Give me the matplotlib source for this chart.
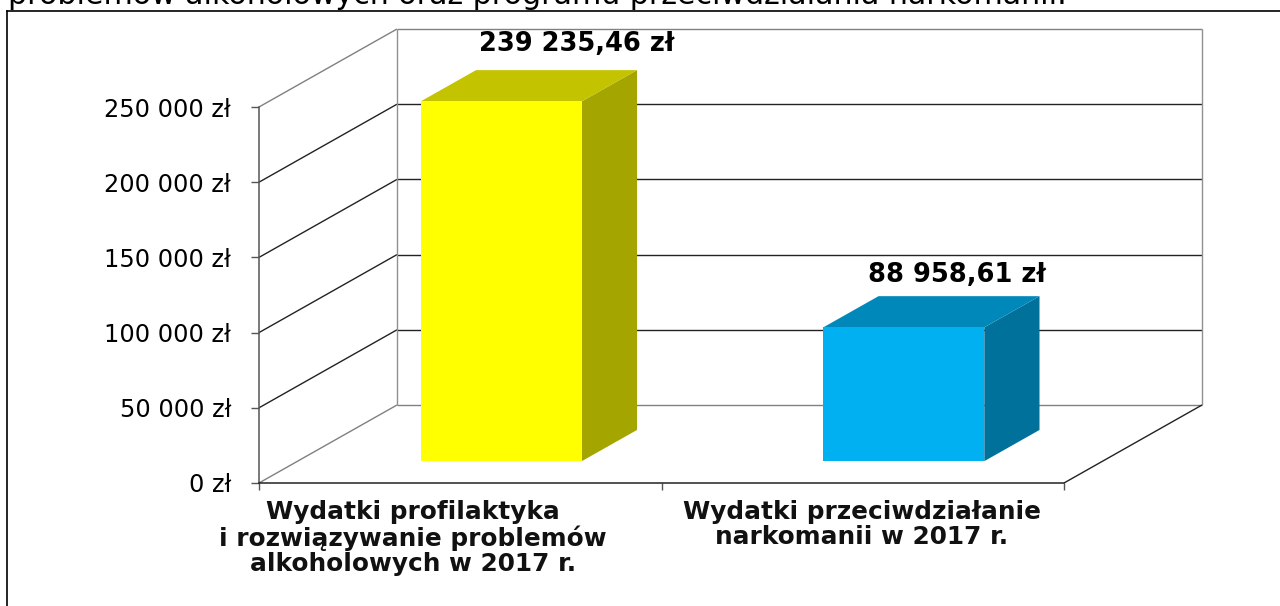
import matplotlib
matplotlib.use("Agg")
import matplotlib.pyplot as plt
from matplotlib.patches import Polygon

plt.rcParams['font.family'] = ['DejaVu Sans']

# data
categories = ["Wydatki profilaktyka\ni rozwiązywanie problemów\nalkoholowych w 2017 r.",
              "Wydatki przeciwdziałanie\nnarkomanii w 2017 r."]
values = [239235.46, 88958.61]
value_labels = ["239 235,46 zł", "88 958,61 zł"]
y_ticks = [0, 50000, 100000, 150000, 200000, 250000]
y_tick_labels = ["0 zł", "50 000 zł", "100 000 zł", "150 000 zł", "200 000 zł", "250 000 zł"]
header = "problemów alkoholowych oraz programu przeciwdziałania narkomanii."

W, H = 1280, 606
fig = plt.figure(figsize=(W / 100, H / 100), dpi=100)

# front plane of the fake 3d box
ax = fig.add_axes([259 / W, (H - 483) / H, 805 / W, 376 / H])
ax.set_xlim(0, 2)
ax.set_ylim(0, 250000)
ax.patch.set_visible(False)

# depth of the box, in data units
dx = 138 / 402.5
dy = 78 / 376 * 250000


def proj(x, y, d):
    return (x + d * dx, y + d * dy)


def line(p, q, color):
    ax.plot([p[0], q[0]], [p[1], q[1]], color=color, lw=1.0, clip_on=False, zorder=1,
            solid_capstyle="butt")


# back wall and side wall
for v in y_ticks:
    if v == 0 or v == y_ticks[-1]:
        c = "#808080"
    else:
        c = "#222222"
    line(proj(0, v, 1), proj(2, v, 1), c)
    line(proj(0, v, 0), proj(0, v, 1), c)
line(proj(0, 0, 1), proj(0, 250000, 1), "#909090")
line(proj(2, 0, 1), proj(2, 250000, 1), "#909090")
line(proj(2, 0, 0), proj(2, 0, 1), "#222222")

# bars
bar_x = [0.506, 1.506]
bar_w = 0.4
d0, d1 = 0.28, 0.68
faces = [("#FFFF00", "#C3C300", "#A5A500"), ("#00B0F0", "#0088BA", "#00719B")]
label_shift = [(20, 26), (-2, 21)]
for x, v, (front, top, side), lab, sh in zip(bar_x, values, faces, value_labels, label_shift):
    l, r = x - bar_w / 2, x + bar_w / 2
    ax.add_patch(Polygon([proj(r, 0, d0), proj(r, 0, d1), proj(r, v, d1), proj(r, v, d0)],
                         fc=side, ec="none", clip_on=False, zorder=3))
    ax.add_patch(Polygon([proj(l, v, d0), proj(r, v, d0), proj(r, v, d1), proj(l, v, d1)],
                         fc=top, ec="none", clip_on=False, zorder=3))
    ax.add_patch(Polygon([proj(l, 0, d0), proj(r, 0, d0), proj(r, v, d0), proj(l, v, d0)],
                         fc=front, ec="none", clip_on=False, zorder=4))
    ax.annotate(lab, proj(x, v, d1), xytext=sh, textcoords="offset pixels", ha="center",
                va="center", fontsize=18.5, fontweight="bold", color="black", annotation_clip=False)

# axes
for s in ["top", "right"]:
    ax.spines[s].set_visible(False)
ax.spines["left"].set_color("#555555")
ax.spines["bottom"].set_color("#222222")
ax.spines["left"].set_linewidth(1.1)
ax.spines["bottom"].set_linewidth(1.1)
ax.set_yticks(y_ticks)
ax.set_yticklabels(y_tick_labels, fontsize=17.3)
ax.set_xticks([0, 1, 2])
ax.set_xticklabels([])
ax.tick_params(axis="y", length=6, width=1, color="#555555", pad=14)
ax.tick_params(axis="x", length=5, width=1, color="#555555")

# category labels
cat_shift = [-47, -1]
for i, name in enumerate(categories):
    ax.annotate(name, (i + 0.5, 0), xytext=(cat_shift[i], -17), textcoords="offset pixels",
                ha="center", va="top", fontsize=17.8, fontweight="bold", linespacing=1.07,
                color="#111111", annotation_clip=False)

# frame around the chart and cut off line of the text above
fig.add_artist(plt.Line2D([7 / W, 7 / W], [0, (H - 11) / H], color="black", lw=1.2))
fig.add_artist(plt.Line2D([7 / W, 1], [(H - 11) / H, (H - 11) / H], color="black", lw=1.2))
fig.text(8 / W, (H - 4) / H, header, fontsize=21.6, color="black", ha="left", va="baseline")

fig.savefig("out.png", dpi=100)
